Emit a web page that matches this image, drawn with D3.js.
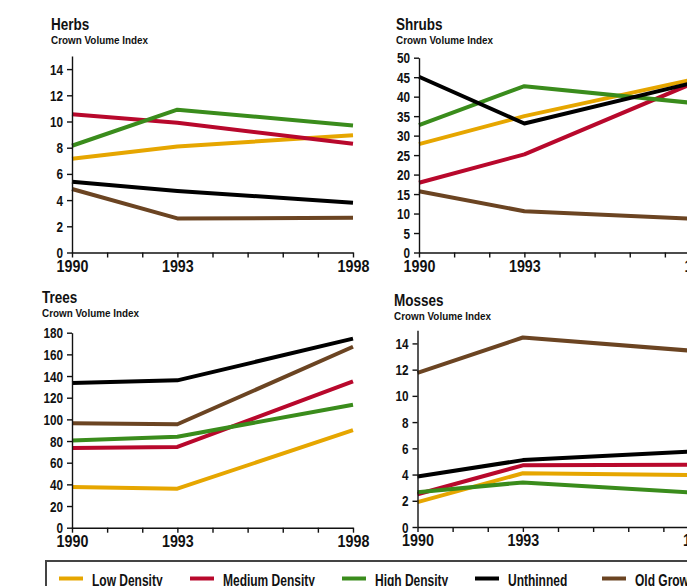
<!DOCTYPE html>
<html>
<head>
<meta charset="utf-8">
<script src="https://cdn.jsdelivr.net/npm/d3@7"></script>
<style>
  body { margin: 0; background: #fff; }
  svg { display: block; }
  text { font-family: 'Liberation Sans', Arial, sans-serif; font-weight: bold; fill: #111; }
</style>
</head>
<body>
<div id="app"></div>
<script>
(function (d3) {

  'use strict'

  // years on the x axis, and the ones that get a label
  const years = [1990, 1993, 1998]
  const allYears = [1990, 1991, 1992, 1993, 1994, 1995, 1996, 1997, 1998]

  const seriesNames = ['Low Density', 'Medium Density', 'High Density', 'Unthinned', 'Old Growth']
  const seriesColors = ['#e6a600', '#b8082c', '#3a8c1c', '#000000', '#6b4422']

  // crown volume index, one row per series (same order as seriesNames)
  const herbs = [
    [7.15, 8.1, 8.95],
    [10.55, 9.9, 8.3],
    [8.15, 10.9, 9.7],
    [5.4, 4.7, 3.8],
    [4.85, 2.6, 2.65]
  ]
  const shrubs = [
    [27.8, 35.0, 44.8],
    [17.9, 25.2, 44.2],
    [32.7, 42.7, 38.2],
    [45.1, 33.1, 44.0],
    [15.7, 10.6, 8.6]
  ]
  const trees = [
    [37.5, 36, 90],
    [73.5, 74.5, 135],
    [80.5, 84, 113.5],
    [133.5, 136, 174.5],
    [96.5, 95.5, 167]
  ]
  const mosses = [
    [1.9, 4.1, 3.95],
    [2.5, 4.7, 4.75],
    [2.65, 3.4, 2.6],
    [3.85, 5.1, 5.78],
    [11.75, 14.45, 13.4]
  ]

  const herbsTicks = [0, 2, 4, 6, 8, 10, 12, 14]
  const shrubsTicks = [0, 5, 10, 15, 20, 25, 30, 35, 40, 45, 50]
  const treesTicks = [0, 20, 40, 60, 80, 100, 120, 140, 160, 180]
  const mossesTicks = [0, 2, 4, 6, 8, 10, 12, 14]

  const w = 687
  const h = 586

  const svg = d3.select('#app')
    .append('svg')
    .attr('width', w)
    .attr('height', h)

  // the original font is a condensed one, so squeeze text sideways
  const squeeze = function (sel, s) {
    sel.each(function () {
      const t = d3.select(this)
      const x = +t.attr('x') || 0
      const y = +t.attr('y') || 0
      t.attr('x', 0).attr('y', 0)
        .attr('transform', 'translate(' + x + ',' + y + ') scale(' + s + ',1)')
    })
  }

  // one small panel of lines
  const drawPanel = function (p) {
    const xScale = d3.scaleLinear()
      .domain([1990, 1998])
      .range([p.left, p.left + 281])
    const yScale = d3.scaleLinear()
      .domain([0, p.max])
      .range([p.bottom, p.top])

    // titles
    const t1 = svg.append('text')
      .attr('x', p.titleX)
      .attr('y', p.titleY)
      .style('font-size', '16.5px')
      .text(p.title)
    squeeze(t1, 0.82)
    const t2 = svg.append('text')
      .attr('x', p.titleX)
      .attr('y', p.titleY + 14)
      .style('font-size', '11.5px')
      .text('Crown Volume Index')
    squeeze(t2, 0.86)

    // lines
    const line = d3.line()
      .x((d, i) => xScale(years[i]))
      .y(d => yScale(d))
    svg.append('g')
      .selectAll('path')
      .data(p.data)
      .enter()
      .append('path')
      .attr('d', d => line(d))
      .attr('fill', 'none')
      .attr('stroke', (d, i) => seriesColors[i])
      .attr('stroke-width', 4)
      .attr('stroke-linejoin', 'round')

    // x axis
    const xAxis = d3.axisBottom(xScale)
      .tickValues(allYears)
      .tickSize(5)
      .tickSizeOuter(0)
      .tickFormat(d => years.includes(d) ? d : '')
    const gx = svg.append('g')
      .attr('transform', 'translate(0,' + p.bottom + ')')
      .call(xAxis)
    gx.selectAll('text')
      .style('font-size', '17px')
      .attr('dy', '0.72em')
      .attr('y', 7)
    squeeze(gx.selectAll('text'), 0.84)

    // y axis
    const yAxis = d3.axisLeft(yScale)
      .tickValues(p.ticks)
      .tickSize(5)
      .tickSizeOuter(0)
    const gy = svg.append('g')
      .attr('transform', 'translate(' + p.left + ',0)')
      .call(yAxis)
    gy.selectAll('text')
      .style('font-size', '14px')
      .attr('x', -9)
      .attr('dy', '0.36em')
    squeeze(gy.selectAll('text'), 0.84)

    svg.selectAll('.domain, .tick line')
      .attr('stroke', '#111')
      .attr('stroke-width', 1.4)
  }

  drawPanel({ title: 'Herbs', titleX: 51, titleY: 30, data: herbs, ticks: herbsTicks, max: 15, left: 72, top: 56, bottom: 252.5 })
  drawPanel({ title: 'Shrubs', titleX: 396, titleY: 30, data: shrubs, ticks: shrubsTicks, max: 50, left: 419, top: 57.7, bottom: 252.5 })
  drawPanel({ title: 'Trees', titleX: 42, titleY: 303, data: trees, ticks: treesTicks, max: 180, left: 72, top: 332.7, bottom: 527.7 })
  drawPanel({ title: 'Mosses', titleX: 394, titleY: 306, data: mosses, ticks: mossesTicks, max: 15, left: 417.5, top: 330.3, bottom: 527 })

  // legend box, runs off the right and bottom edges
  svg.append('rect')
    .attr('x', 46)
    .attr('y', 561)
    .attr('width', 700)
    .attr('height', 60)
    .attr('fill', 'none')
    .attr('stroke', '#444')
    .attr('stroke-width', 2)

  const legendX = [59, 190, 342, 475, 602]
  const legend = svg.append('g')
    .selectAll('g')
    .data(seriesNames)
    .enter()
    .append('g')
    .attr('transform', (d, i) => 'translate(' + legendX[i] + ',578.5)')
  legend.append('line')
    .attr('x1', 0)
    .attr('x2', 24)
    .attr('stroke', (d, i) => seriesColors[i])
    .attr('stroke-width', 4)
  const lt = legend.append('text')
    .attr('x', 33)
    .attr('y', 7.5)
    .style('font-size', '16px')
    .text(d => d)
  squeeze(lt, 0.75)

}(d3))
</script>
</body>
</html>
